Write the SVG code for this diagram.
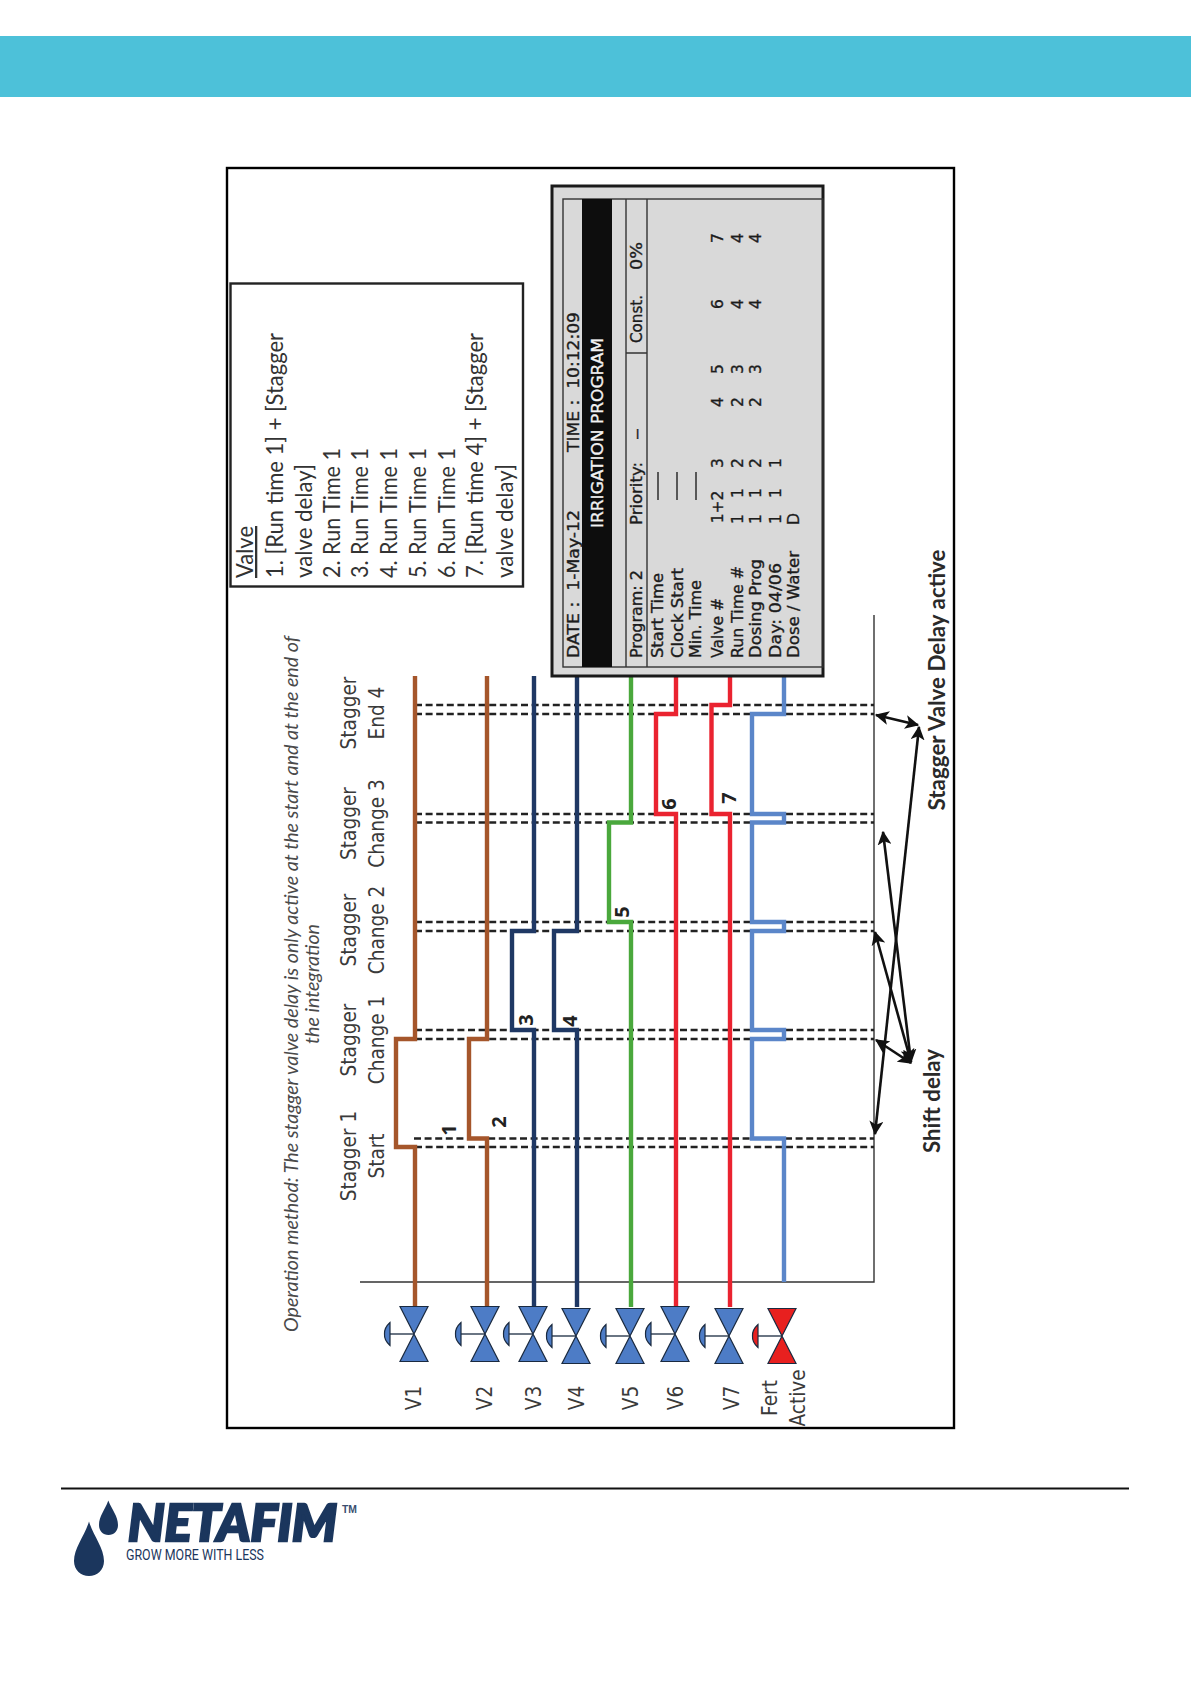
<svg xmlns="http://www.w3.org/2000/svg" width="1191" height="1684" viewBox="0 0 1191 1684">
<style>
.sig{fill:none;stroke-width:4.4;stroke-linejoin:miter}
.brown{stroke:#a5562b}.navy{stroke:#1f3864}.green{stroke:#4aa83c}.red{stroke:#ea2330}.blue{stroke:#5b86c9}
.dash{stroke:#222;stroke-width:2.3;stroke-dasharray:7 3.6;fill:none}
.axis{stroke:#333;stroke-width:1.4;fill:none}
.arr{stroke:#111;stroke-width:2.6;fill:none;marker-end:url(#head);marker-start:url(#headr)}
.vt{stroke:#1a2a40;stroke-width:1.2}
.lab{font-family:"DejaVu Sans",sans-serif;font-size:18.5px;fill:#3a3a3a;text-anchor:middle}
.box{font-family:Lato,"Open Sans",sans-serif;font-size:23px;fill:#333}
.num{font-family:"Open Sans",sans-serif;font-weight:700;font-size:20px;fill:#222;text-anchor:middle}
.side{font-family:Lato,sans-serif;font-weight:700;font-size:23px;fill:#2a2a2a;text-anchor:middle}
.ital{font-family:Lato,sans-serif;font-style:italic;font-size:19px;fill:#4a4a4a;text-anchor:middle}
.lcd{font-family:"DejaVu Sans",sans-serif;font-size:15.5px;fill:#1c1c1c;stroke:#1c1c1c;stroke-width:.35}
.lcdm{font-family:"DejaVu Sans",sans-serif;font-size:15.5px;fill:#1c1c1c;stroke:#1c1c1c;stroke-width:.35;text-anchor:middle}
</style>
<defs>
<marker id="head" markerUnits="userSpaceOnUse" viewBox="0 0 12 12" refX="11" refY="6" markerWidth="14" markerHeight="14" orient="auto"><path d="M0 0L12 6L0 12L3 6Z" fill="#111"/></marker>
<marker id="headr" markerUnits="userSpaceOnUse" viewBox="0 0 12 12" refX="1" refY="6" markerWidth="14" markerHeight="14" orient="auto"><path d="M12 0L0 6L12 12L9 6Z" fill="#111"/></marker>
<g id="valve">
<path class="vt" d="M-14 -27.5H14L0 0L14 27.5H-14L0 0Z"/>
<path d="M0 0H-24" stroke="#1a2a40" stroke-width="1.3" fill="none"/>
<path class="vt" d="M-24 -11.5Q-30 -6 -29.5 0Q-30 6 -24 11.5Z"/>
</g>
</defs>
<rect width="1191" height="1684" fill="#fff"/>
<rect id="header-band" x="0" y="36" width="1191" height="61" fill="#4dc1d9"/>
<rect id="frame" x="227" y="168" width="727" height="1260" fill="none" stroke="#000" stroke-width="2.4"/>

<g id="connectors">
<path class="axis" d="M360 1282H874V615"/>
<g id="dashes">
<path class="dash" d="M415 705H874M415 714H874M415 814H874M415 822.500H874M415 922H874M415 931H874M415 1030H874M415 1039H874M414 1138.500H874M415 1147H874"/>
</g>
<path class="sig brown" d="M415 1307V1147H396V1039H415V676"/>
<path class="sig brown" d="M487 1307V1138.500H469V1039H487V676"/>
<path class="sig navy" d="M534 1307V1030H512V931H534V676"/>
<path class="sig navy" d="M577 1307V1030H554V931H577V676"/>
<path class="sig green" d="M631 1307V922H609V822.500H631V676"/>
<path class="sig red" d="M676 1307V814H656V714H676V676"/>
<path class="sig red" d="M730 1307V814H711.500V705H730V676"/>
<path class="sig blue" d="M784 1282V1138.500H752V1039H784V1030H752V931H784V922H752V822.500H784V814H752V714H784V676"/>
<g id="arrows">
<path class="arr" d="M876 715L918 725"/>
<path class="arr" d="M919 727L875 1134"/>
<path class="arr" d="M911 1062L883 832"/>
<path class="arr" d="M911 1062L875 932"/>
<path class="arr" d="M876 1040L911 1063"/>
</g>
</g>

<g id="valve-v1"><use href="#valve" x="414" y="1334" fill="#4d7cc6"/><text class="lab" transform="translate(421,1398) rotate(-90) scale(1,1.15)">V1</text></g>
<g id="valve-v2"><use href="#valve" x="485" y="1334" fill="#4d7cc6"/><text class="lab" transform="translate(492,1398) rotate(-90) scale(1,1.15)">V2</text></g>
<g id="valve-v3"><use href="#valve" x="533" y="1334" fill="#4d7cc6"/><text class="lab" transform="translate(541,1398) rotate(-90) scale(1,1.15)">V3</text></g>
<g id="valve-v4"><use href="#valve" x="576" y="1336" fill="#4d7cc6"/><text class="lab" transform="translate(583.500,1398) rotate(-90) scale(1,1.15)">V4</text></g>
<g id="valve-v5"><use href="#valve" x="630" y="1336" fill="#4d7cc6"/><text class="lab" transform="translate(638,1398) rotate(-90) scale(1,1.15)">V5</text></g>
<g id="valve-v6"><use href="#valve" x="675" y="1334" fill="#4d7cc6"/><text class="lab" transform="translate(683,1398) rotate(-90) scale(1,1.15)">V6</text></g>
<g id="valve-v7"><use href="#valve" x="729" y="1336" fill="#4d7cc6"/><text class="lab" transform="translate(739,1398) rotate(-90) scale(1,1.15)">V7</text></g>
<g id="valve-fert"><use href="#valve" x="782" y="1336" fill="#e8201f"/><text class="lab" transform="translate(776.500,1398) rotate(-90) scale(1,1.15)">Fert</text><text class="lab" transform="translate(805,1398) rotate(-90) scale(1,1.15)">Active</text></g>

<g id="stage-labels">
<text class="lab" transform="translate(356,1156) rotate(-90) scale(1,1.15)">Stagger 1</text>
<text class="lab" transform="translate(384,1156) rotate(-90) scale(1,1.15)">Start</text>
<text class="lab" transform="translate(356,1040) rotate(-90) scale(1,1.15)">Stagger</text>
<text class="lab" transform="translate(384,1040) rotate(-90) scale(1,1.15)">Change 1</text>
<text class="lab" transform="translate(356,930) rotate(-90) scale(1,1.15)">Stagger</text>
<text class="lab" transform="translate(384,930) rotate(-90) scale(1,1.15)">Change 2</text>
<text class="lab" transform="translate(356,823.500) rotate(-90) scale(1,1.15)">Stagger</text>
<text class="lab" transform="translate(384,823.500) rotate(-90) scale(1,1.15)">Change 3</text>
<text class="lab" transform="translate(356,713) rotate(-90) scale(1,1.15)">Stagger</text>
<text class="lab" transform="translate(384,713) rotate(-90) scale(1,1.15)">End 4</text>
</g>

<g id="step-numbers">
<text class="num" transform="translate(456,1130) rotate(-90)">1</text>
<text class="num" transform="translate(506,1122) rotate(-90)">2</text>
<text class="num" transform="translate(533,1020) rotate(-90)">3</text>
<text class="num" transform="translate(577,1021) rotate(-90)">4</text>
<text class="num" transform="translate(629,912) rotate(-90)">5</text>
<text class="num" transform="translate(676,804) rotate(-90)">6</text>
<text class="num" transform="translate(735.500,798) rotate(-90)">7</text>
</g>

<g id="note">
<text class="ital" transform="translate(298,984) rotate(-90)" textLength="696" lengthAdjust="spacingAndGlyphs">Operation method: The stagger valve delay is only active at the start and at the end of</text>
<text class="ital" transform="translate(319,984) rotate(-90)" textLength="120" lengthAdjust="spacingAndGlyphs">the integration</text>
</g>

<g id="side-labels">
<text class="side" transform="translate(940,1101) rotate(-90)" textLength="104" lengthAdjust="spacingAndGlyphs">Shift delay</text>
<text class="side" transform="translate(945,680) rotate(-90)" textLength="261" lengthAdjust="spacingAndGlyphs">Stagger Valve Delay active</text>
</g>

<g id="valve-box">
<rect x="230.500" y="283.500" width="292.500" height="303" fill="#fff" stroke="#222" stroke-width="2.4"/>
<text class="box" transform="translate(253,578) rotate(-90)" text-decoration="underline" textLength="52" lengthAdjust="spacingAndGlyphs">Valve</text>
<text class="box" transform="translate(283,578) rotate(-90)" textLength="245" lengthAdjust="spacingAndGlyphs">1. [Run time 1] + [Stagger</text>
<text class="box" transform="translate(312,578) rotate(-90)" textLength="114" lengthAdjust="spacingAndGlyphs">valve delay]</text>
<text class="box" transform="translate(340,578) rotate(-90)" textLength="130" lengthAdjust="spacingAndGlyphs">2. Run Time 1</text>
<text class="box" transform="translate(368,578) rotate(-90)" textLength="130" lengthAdjust="spacingAndGlyphs">3. Run Time 1</text>
<text class="box" transform="translate(397,578) rotate(-90)" textLength="130" lengthAdjust="spacingAndGlyphs">4. Run Time 1</text>
<text class="box" transform="translate(426,578) rotate(-90)" textLength="130" lengthAdjust="spacingAndGlyphs">5. Run Time 1</text>
<text class="box" transform="translate(455,578) rotate(-90)" textLength="130" lengthAdjust="spacingAndGlyphs">6. Run Time 1</text>
<text class="box" transform="translate(483,578) rotate(-90)" textLength="245" lengthAdjust="spacingAndGlyphs">7. [Run time 4] + [Stagger</text>
<text class="box" transform="translate(513,578) rotate(-90)" textLength="114" lengthAdjust="spacingAndGlyphs">valve delay]</text>
</g>

<g id="lcd-panel">
<rect x="552" y="186" width="271" height="490" fill="#d9d9d9" stroke="#1a1a1a" stroke-width="3"/>
<rect x="563" y="199" width="260" height="468" fill="none" stroke="#333" stroke-width="1.4"/>
<rect x="582" y="199" width="30" height="468" fill="#0d0d0d"/>
<path d="M626 199V667M647 199V667M626 353H647" fill="none" stroke="#333" stroke-width="1.4"/>
<path d="M658 500V472M677 500V472M696 500V472" fill="none" stroke="#222" stroke-width="1.4"/>
<text class="lcd" transform="translate(579,658) rotate(-90)" textLength="148" lengthAdjust="spacingAndGlyphs" xml:space="preserve">DATE :  1-May-12</text>
<text class="lcd" transform="translate(579,452) rotate(-90)" textLength="140" lengthAdjust="spacingAndGlyphs" xml:space="preserve">TIME :  10:12:09</text>
<text class="lcd" transform="translate(603,528) rotate(-90)" textLength="190" lengthAdjust="spacingAndGlyphs" style="fill:#f2f2f2;stroke:#f2f2f2">IRRIGATION PROGRAM</text>
<text class="lcd" transform="translate(642,658) rotate(-90)" textLength="88" lengthAdjust="spacingAndGlyphs">Program: 2</text>
<text class="lcd" transform="translate(642,525) rotate(-90)" textLength="63" lengthAdjust="spacingAndGlyphs">Priority:</text>
<text class="lcd" transform="translate(642,440) rotate(-90)" textLength="12" lengthAdjust="spacingAndGlyphs">–</text>
<text class="lcd" transform="translate(642,343) rotate(-90)" textLength="48" lengthAdjust="spacingAndGlyphs">Const.</text>
<text class="lcd" transform="translate(642,270) rotate(-90)" textLength="28" lengthAdjust="spacingAndGlyphs">0%</text>
<text class="lcd" transform="translate(663,658) rotate(-90)" textLength="85" lengthAdjust="spacingAndGlyphs">Start Time</text>
<text class="lcd" transform="translate(683,658) rotate(-90)" textLength="90" lengthAdjust="spacingAndGlyphs">Clock Start</text>
<text class="lcd" transform="translate(701,658) rotate(-90)" textLength="78" lengthAdjust="spacingAndGlyphs">Min. Time</text>
<text class="lcd" transform="translate(723,658) rotate(-90)" textLength="60" lengthAdjust="spacingAndGlyphs">Valve #</text>
<text class="lcd" transform="translate(743,658) rotate(-90)" textLength="92" lengthAdjust="spacingAndGlyphs">Run Time #</text>
<text class="lcd" transform="translate(761,658) rotate(-90)" textLength="99" lengthAdjust="spacingAndGlyphs">Dosing Prog</text>
<text class="lcd" transform="translate(781,658) rotate(-90)" textLength="95" lengthAdjust="spacingAndGlyphs">Day:  04/06</text>
<text class="lcd" transform="translate(799,658) rotate(-90)" textLength="107" lengthAdjust="spacingAndGlyphs">Dose / Water</text>
<text class="lcdm" transform="translate(723,507) rotate(-90)">1+2</text>
<text class="lcdm" transform="translate(723,463) rotate(-90)">3</text>
<text class="lcdm" transform="translate(723,402) rotate(-90)">4</text>
<text class="lcdm" transform="translate(723,369) rotate(-90)">5</text>
<text class="lcdm" transform="translate(723,304) rotate(-90)">6</text>
<text class="lcdm" transform="translate(723,238) rotate(-90)">7</text>
<text class="lcdm" transform="translate(743,519) rotate(-90)">1</text>
<text class="lcdm" transform="translate(743,493) rotate(-90)">1</text>
<text class="lcdm" transform="translate(743,463) rotate(-90)">2</text>
<text class="lcdm" transform="translate(743,402) rotate(-90)">2</text>
<text class="lcdm" transform="translate(743,369) rotate(-90)">3</text>
<text class="lcdm" transform="translate(743,304) rotate(-90)">4</text>
<text class="lcdm" transform="translate(743,238) rotate(-90)">4</text>
<text class="lcdm" transform="translate(761,519) rotate(-90)">1</text>
<text class="lcdm" transform="translate(761,493) rotate(-90)">1</text>
<text class="lcdm" transform="translate(761,463) rotate(-90)">2</text>
<text class="lcdm" transform="translate(761,402) rotate(-90)">2</text>
<text class="lcdm" transform="translate(761,369) rotate(-90)">3</text>
<text class="lcdm" transform="translate(761,304) rotate(-90)">4</text>
<text class="lcdm" transform="translate(761,238) rotate(-90)">4</text>
<text class="lcdm" transform="translate(781,519) rotate(-90)">1</text>
<text class="lcdm" transform="translate(781,493) rotate(-90)">1</text>
<text class="lcdm" transform="translate(781,463) rotate(-90)">1</text>
<text class="lcdm" transform="translate(799,519) rotate(-90)">D</text>
</g>

<path id="footer-rule" d="M61 1488.500H1129" stroke="#111" stroke-width="2" fill="none"/>
<g id="logo" fill="#1b365d">
<path d="M108.300 1500.500C105 1510 99 1516 99 1525C99 1531 103 1535 108.500 1535C114 1535 118 1531 118 1525C118 1516 112 1510 108.300 1500.500Z"/>
<path d="M89 1521.500C85 1535 74 1548 74 1561C74 1570 81 1576 89 1576C97 1576 104 1570 104 1561C104 1548 93 1535 89 1521.500Z"/>
<text x="128" y="1541" font-family="Lato,sans-serif" font-weight="900" font-style="italic" font-size="51" textLength="209" lengthAdjust="spacingAndGlyphs" stroke="#1b365d" stroke-width="2.6">NETAFIM</text>
<text x="342" y="1512.500" font-family="'Liberation Sans',sans-serif" font-weight="700" font-size="10" textLength="15" lengthAdjust="spacingAndGlyphs" fill="#3a4f70">TM</text>
<text x="126" y="1560" font-family="Roboto,sans-serif" font-size="14" textLength="138" lengthAdjust="spacingAndGlyphs">GROW MORE WITH LESS</text>
</g>
</svg>
